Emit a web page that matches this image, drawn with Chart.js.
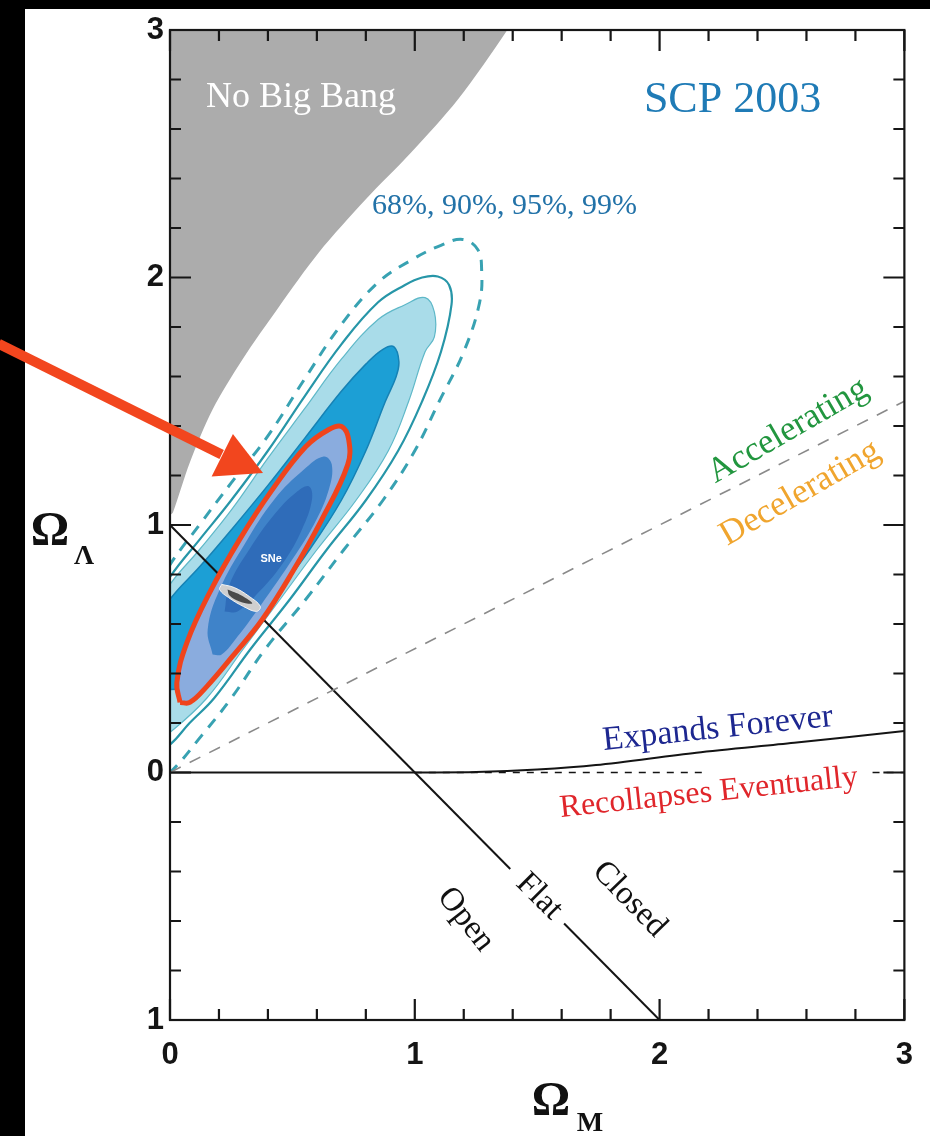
<!DOCTYPE html>
<html>
<head>
<meta charset="utf-8">
<title>Omega_M vs Omega_Lambda</title>
<script src="https://cdn.jsdelivr.net/npm/chart.js@4.4.1/dist/chart.umd.min.js"></script>
<style>
  html, body { margin: 0; padding: 0; background: #000; }
  #wrap { position: relative; width: 930px; height: 1136px; }
</style>
</head>
<body>
<div id="wrap"><canvas id="omegaChart"></canvas></div>
<script>
/* Axis ticks (Omega_M on x, Omega_Lambda on y) */
const xTickLabels = [0, 1, 2, 3];
const yTickLabels = [-1, 0, 1, 2, 3];

/* Regions and contours, [Omega_M, Omega_Lambda] */
const noBigBang = [[-0.05, 0.95], [0, 1.04], [0.012, 1.051], [0.081, 1.253], [0.174, 1.467], [0.296, 1.669],
  [0.446, 1.883], [0.608, 2.101], [0.799, 2.315], [0.985, 2.505], [1.176, 2.719], [1.378, 3.0],
  [1.5, 3.2], [-0.2, 3.2], [-0.2, 1.0], [-0.05, 0.95]];

const scp99 = [[-0.17, 0.55], [-0.08, 0.70], [0, 0.84], [0.12, 1.00], [0.25, 1.17], [0.40, 1.36], [0.55, 1.59],
  [0.70, 1.81], [0.85, 1.98], [0.985, 2.07], [1.107, 2.13], [1.196, 2.154], [1.257, 2.113], [1.273, 2.032],
  [1.265, 1.90], [1.20, 1.70], [1.10, 1.50], [1.00, 1.30], [0.87, 1.10], [0.71, 0.90], [0.555, 0.70],
  [0.39, 0.50], [0.25, 0.30], [0.13, 0.15], [0, 0], [-0.1, -0.07], [-0.2, 0.1], [-0.22, 0.32], [-0.17, 0.55]];

const scp95 = [[-0.16, 0.50], [-0.08, 0.65], [0, 0.79], [0.12, 0.94], [0.25, 1.10], [0.40, 1.30], [0.55, 1.52],
  [0.70, 1.73], [0.85, 1.90], [0.96, 1.97], [1.03, 2.00], [1.094, 2.004], [1.14, 1.97], [1.15, 1.89],
  [1.107, 1.70], [1.03, 1.50], [0.932, 1.30], [0.80, 1.10], [0.64, 0.90], [0.49, 0.70], [0.33, 0.50],
  [0.18, 0.30], [0.08, 0.20], [0, 0.113], [-0.09, 0.06], [-0.19, 0.25], [-0.16, 0.50]];

const scp90 = [[-0.15, 0.48], [-0.08, 0.62], [0, 0.76], [0.12, 0.90], [0.25, 1.06], [0.40, 1.27], [0.55, 1.47],
  [0.70, 1.67], [0.85, 1.83], [0.96, 1.89], [1.042, 1.919], [1.08, 1.86], [1.08, 1.76], [1.042, 1.70],
  [0.975, 1.50], [0.892, 1.30], [0.76, 1.10], [0.60, 0.90], [0.45, 0.70], [0.30, 0.50], [0.15, 0.30],
  [0, 0.162], [-0.08, 0.11], [-0.17, 0.28], [-0.15, 0.48]];

const scp68 = [[-0.14, 0.45], [-0.07, 0.58], [0, 0.70], [0.12, 0.83], [0.25, 0.98], [0.40, 1.16], [0.55, 1.35],
  [0.70, 1.54], [0.80, 1.65], [0.87, 1.71], [0.915, 1.72], [0.935, 1.66], [0.924, 1.60], [0.88, 1.50],
  [0.80, 1.30], [0.70, 1.10], [0.57, 0.90], [0.42, 0.70], [0.26, 0.50], [0.10, 0.35], [0, 0.335],
  [-0.08, 0.33], [-0.15, 0.38], [-0.14, 0.45]];

const sneOuter = [[0.041, 0.283], [0.028, 0.364], [0.069, 0.525], [0.162, 0.727], [0.284, 0.941], [0.418, 1.143],
  [0.555, 1.317], [0.649, 1.386], [0.701, 1.398], [0.730, 1.345], [0.726, 1.244], [0.620, 1.022],
  [0.499, 0.808], [0.377, 0.618], [0.255, 0.469], [0.150, 0.347], [0.081, 0.283], [0.041, 0.283]];

const sneMiddle = [[0.174, 0.477], [0.154, 0.578], [0.203, 0.739], [0.304, 0.921], [0.426, 1.103], [0.547, 1.224],
  [0.628, 1.277], [0.661, 1.244], [0.649, 1.143], [0.588, 1.002], [0.486, 0.840], [0.373, 0.679],
  [0.276, 0.549], [0.211, 0.477], [0.174, 0.477]];

const sneInner = [[0.223, 0.651], [0.243, 0.760], [0.324, 0.901], [0.426, 1.042], [0.515, 1.131], [0.568, 1.156],
  [0.580, 1.103], [0.539, 0.982], [0.466, 0.853], [0.365, 0.731], [0.276, 0.651], [0.223, 0.651]];

const cmbOuter = [[0.211, 0.760], [0.263, 0.747], [0.324, 0.711], [0.369, 0.671], [0.353, 0.651], [0.300, 0.671],
  [0.239, 0.707], [0.203, 0.739], [0.211, 0.760]];
const cmbInner = [[0.235, 0.739], [0.292, 0.715], [0.336, 0.683], [0.284, 0.691], [0.243, 0.715], [0.235, 0.739]];

/* Model lines */
const flatUpper = [[0, 1], [1.39, -0.39]];
const flatLower = [[1.61, -0.61], [2, -1]];
const accelBoundary = [[0, 0], [3, 1.5]];
const zeroLine = [[0, 0], [1, 0]];
const expandsForever = [[1, 0], [1.25, 0.002], [1.5, 0.012], [1.74, 0.03], [2.15, 0.08], [2.55, 0.12], [3, 0.168]];
const recollapseA = [[1, 0], [2.2, 0]];
const recollapseB = [[2.87, 0], [3, 0]];

/* Pointer arrow */
const arrowShaft = [[-0.70, 1.732], [0.211, 1.285]];
const arrowHead = [[0.380, 1.210], [0.170, 1.196], [0.257, 1.368], [0.380, 1.210]];

const SERIF = '"Liberation Serif", "DejaVu Serif", "Times New Roman", serif';
const SANS = '"Liberation Sans", Arial, Helvetica, sans-serif';

const toXY = pts => pts.map(([m, l]) => ({ x: m, y: l }));

function series(label, pts, opts) {
    return Object.assign({
        label,
        data: toXY(pts),
        showLine: true,
        pointRadius: 0,
        pointHoverRadius: 0,
        tension: 0.4,
        clip: 0,
        fill: false,
        borderWidth: 0,
        borderColor: 'transparent',
        backgroundColor: 'transparent',
    }, opts);
}

const datasets = [
    series('arrowHead', arrowHead, { order: 0, tension: 0, fill: 'shape', backgroundColor: '#f2461e' }),
    series('arrowShaft', arrowShaft, { order: 1, tension: 0, clip: false, borderWidth: 10, borderColor: '#f2461e' }),
    series('cmbInner', cmbInner, { order: 2, fill: 'shape', backgroundColor: '#4a4a4a' }),
    series('cmbOuter', cmbOuter, { order: 3, fill: 'shape', backgroundColor: '#cfcfcf', borderWidth: 1, borderColor: '#f4f4f4' }),
    series('sneInner', sneInner, { order: 4, fill: 'shape', backgroundColor: '#2f6cb9' }),
    series('sneMiddle', sneMiddle, { order: 5, fill: 'shape', backgroundColor: '#3f83c9' }),
    series('sneOuter', sneOuter, { order: 6, fill: 'shape', backgroundColor: '#8aacde', borderWidth: 5, borderColor: '#f0441c' }),
    series('accel', accelBoundary, { order: 7, tension: 0, borderWidth: 1.6, borderColor: '#8a8a8a', borderDash: [12, 10] }),
    series('flatUpper', flatUpper, { order: 8, tension: 0, borderWidth: 2, borderColor: '#141414' }),
    series('flatLower', flatLower, { order: 9, tension: 0, borderWidth: 2, borderColor: '#141414' }),
    series('zero', zeroLine, { order: 10, tension: 0, borderWidth: 2, borderColor: '#141414' }),
    series('expands', expandsForever, { order: 11, tension: 0.3, borderWidth: 2, borderColor: '#141414' }),
    series('recollapseA', recollapseA, { order: 12, tension: 0, borderWidth: 1.6, borderColor: '#141414', borderDash: [7, 7] }),
    series('recollapseB', recollapseB, { order: 13, tension: 0, borderWidth: 1.6, borderColor: '#141414', borderDash: [7, 7] }),
    series('scp99', scp99, { order: 14, borderWidth: 3, borderColor: '#38a2b2', borderDash: [11, 9] }),
    series('scp95', scp95, { order: 15, borderWidth: 2.2, borderColor: '#2796a8' }),
    series('scp68', scp68, { order: 16, fill: 'shape', backgroundColor: '#1c9fd5', borderWidth: 1.5, borderColor: '#1682b5' }),
    series('scp90', scp90, { order: 17, fill: 'shape', backgroundColor: '#a9dce9', borderWidth: 1.2, borderColor: '#5fb8c8' }),
    series('noBigBang', noBigBang, { order: 18, tension: 0.3, fill: 'shape', backgroundColor: '#acacac' }),
];

/* Text annotations placed at [Omega_M, Omega_Lambda] */
const notes = [
    { text: 'No Big Bang', at: [0.535, 2.727], size: 36, color: '#ffffff', angle: 0 },
    { text: 'SCP 2003', at: [2.298, 2.715], size: 44, color: '#1f7bb6', angle: 0 },
    { text: '68%, 90%, 95%, 99%', at: [1.366, 2.287], size: 30, color: '#2272a8', angle: 0 },
    { text: 'Accelerating', at: [2.525, 1.380], size: 35, color: '#22963f', angle: -30 },
    { text: 'Decelerating', at: [2.574, 1.128], size: 35, color: '#f0a52e', angle: -30 },
    { text: 'Expands Forever', at: [2.238, 0.176], size: 34, color: '#1d2790', angle: -6 },
    { text: 'Recollapses Eventually', at: [2.201, -0.083], size: 32, color: '#e0262b', angle: -6 },
    { text: 'Flat', at: [1.508, -0.501], size: 33, color: '#111111', angle: 45 },
    { text: 'Open', at: [1.208, -0.594], size: 33, color: '#111111', angle: 52 },
    { text: 'Closed', at: [1.877, -0.513], size: 33, color: '#111111', angle: 46 },
];

function drawFrame(chart) {
    const { ctx, chartArea: a, scales: { x, y } } = chart;
    ctx.save();
    ctx.strokeStyle = '#161616';
    ctx.lineWidth = 2.2;
    ctx.strokeRect(a.left, a.top, a.right - a.left, a.bottom - a.top);
    ctx.beginPath();
    for (let i = 0; i <= 15; i++) {
        const px = x.getPixelForValue(i * 0.2);
        const len = i % 5 === 0 ? 21 : 11;
        ctx.moveTo(px, a.bottom); ctx.lineTo(px, a.bottom - len);
        ctx.moveTo(px, a.top); ctx.lineTo(px, a.top + len);
    }
    for (let i = 0; i <= 20; i++) {
        const py = y.getPixelForValue(-1 + i * 0.2);
        const len = i % 5 === 0 ? 21 : 11;
        ctx.moveTo(a.left, py); ctx.lineTo(a.left + len, py);
        ctx.moveTo(a.right, py); ctx.lineTo(a.right - len, py);
    }
    ctx.stroke();
    ctx.restore();
}

const paperPlugin = {
    id: 'paper',
    beforeDraw(chart) {
        const { ctx, width, height } = chart;
        ctx.save();
        ctx.fillStyle = '#000';
        ctx.fillRect(0, 0, width, height);
        ctx.fillStyle = '#fff';
        ctx.fillRect(25, 9, width - 25, height - 9);
        ctx.restore();
    },
    beforeDatasetDraw(chart, args) {
        // frame and ticks sit above the contours but under the arrow
        if (chart.data.datasets[args.index].label === 'arrowShaft') drawFrame(chart);
    },
    afterDatasetsDraw(chart) {
        const { ctx, scales: { x, y } } = chart;
        ctx.save();
        ctx.textAlign = 'center';
        ctx.textBaseline = 'middle';
        notes.forEach(n => {
            ctx.save();
            ctx.translate(x.getPixelForValue(n.at[0]), y.getPixelForValue(n.at[1]));
            ctx.rotate(n.angle * Math.PI / 180);
            ctx.font = `${n.size}px ${SERIF}`;
            ctx.fillStyle = n.color;
            ctx.fillText(n.text, 0, 0);
            ctx.restore();
        });

        ctx.font = `bold 11px ${SANS}`;
        ctx.fillStyle = '#ffffff';
        ctx.fillText('SNe', x.getPixelForValue(0.413), y.getPixelForValue(0.861));

        // axis titles
        ctx.fillStyle = '#111';
        ctx.font = `bold 48px ${SERIF}`;
        ctx.fillText('Ω', 50, 533);
        ctx.fillText('Ω', 551, 1103);
        ctx.font = `bold 28px ${SERIF}`;
        ctx.fillText('Λ', 84, 557);
        ctx.fillText('M', 590, 1124);
        ctx.restore();
    },
};

document.addEventListener('DOMContentLoaded', () => {
    const canvas = document.getElementById('omegaChart');

    new Chart(canvas, {
        type: 'scatter',
        data: { datasets },
        options: {
            responsive: true,
            maintainAspectRatio: false,
            animation: false,
            events: [],
            layout: { padding: { left: 0, right: 20, top: 30, bottom: 0 } },
            elements: { line: { capBezierPoints: false, borderJoinStyle: 'round', borderCapStyle: 'butt' } },
            plugins: {
                legend: { display: false },
                tooltip: { enabled: false },
                filler: { drawTime: 'beforeDatasetDraw' },
            },
            scales: {
                x: {
                    type: 'linear',
                    min: 0,
                    max: 3,
                    grid: { display: false, drawTicks: false },
                    border: { display: false },
                    ticks: {
                        stepSize: 1,
                        autoSkip: false,
                        maxRotation: 0,
                        padding: 17,
                        color: '#151515',
                        font: { family: SANS, size: 31, weight: 'bold' },
                        callback: v => xTickLabels.includes(v) ? String(v) : '',
                    },
                    afterFit: scale => { scale.height = 116; },
                },
                y: {
                    type: 'linear',
                    min: -1,
                    max: 3,
                    grid: { display: false, drawTicks: false },
                    border: { display: false },
                    ticks: {
                        stepSize: 1,
                        autoSkip: false,
                        padding: 6,
                        color: '#151515',
                        font: { family: SANS, size: 31, weight: 'bold' },
                        callback: v => yTickLabels.includes(v) ? String(Math.abs(v)) : '',
                    },
                    afterFit: scale => { scale.width = 170; },
                },
            },
        },
        plugins: [paperPlugin],
    });
});
</script>
</body>
</html>
